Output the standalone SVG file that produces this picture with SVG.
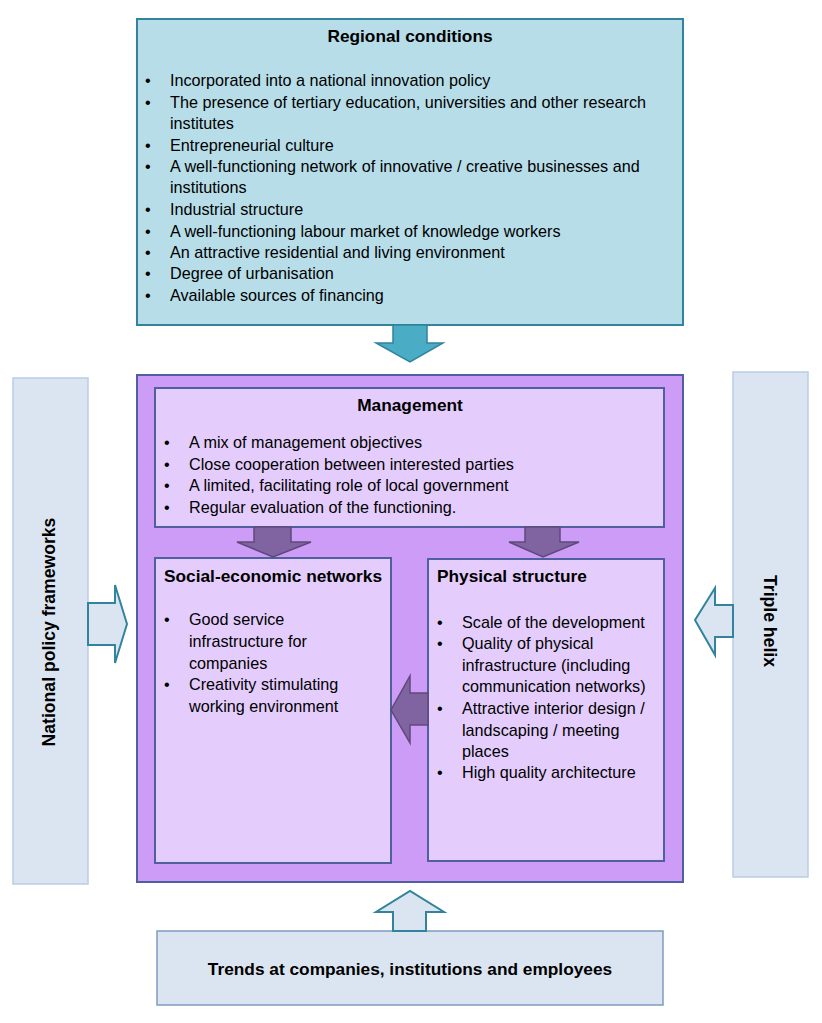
<svg xmlns="http://www.w3.org/2000/svg" width="822" height="1023" viewBox="0 0 822 1023">
<style>
text{font-family:"Liberation Sans",Arial,sans-serif;fill:#000;}
.t{font-size:16.2px;}
.h{font-size:17.3px;font-weight:bold;}
.v{font-size:17.6px;font-weight:bold;}
.reg{fill:#b7dde8;stroke:#31849b;stroke-width:2;}
.main{fill:#cc9cf7;stroke:#4f5f9f;stroke-width:2;}
.inner{fill:#e4cdfc;stroke:#4f5f9f;stroke-width:2;}
.side{fill:#dbe5f1;stroke:#b9cde5;stroke-width:1.5;}
.bot{fill:#dbe5f1;stroke:#7f9bbf;stroke-width:1.5;}
.tealArrow{fill:#4bacc6;stroke:#31849b;stroke-width:1.5;}
.outArrow{fill:#dbe5f1;stroke:#31849b;stroke-width:2;}
.purArrow{fill:#8064a2;stroke:#5f497a;stroke-width:1.5;}
</style>
<rect width="822" height="1023" fill="#fff"/>

<g id="regional">
<rect class="reg" x="137" y="19" width="546" height="306"/>
<text class="h" x="410" y="42" text-anchor="middle">Regional conditions</text>
<g class="t">
<text x="145" y="86">•</text><text x="170" y="86">Incorporated into a national innovation policy</text>
<text x="145" y="108">•</text><text x="170" y="108">The presence of tertiary education, universities and other research</text>
<text x="170" y="129">institutes</text>
<text x="145" y="151">•</text><text x="170" y="151">Entrepreneurial culture</text>
<text x="145" y="172">•</text><text x="170" y="172">A well-functioning network of innovative / creative businesses and</text>
<text x="170" y="193">institutions</text>
<text x="145" y="215">•</text><text x="170" y="215">Industrial structure</text>
<text x="145" y="237">•</text><text x="170" y="237">A well-functioning labour market of knowledge workers</text>
<text x="145" y="258">•</text><text x="170" y="258">An attractive residential and living environment</text>
<text x="145" y="279">•</text><text x="170" y="279">Degree of urbanisation</text>
<text x="145" y="301">•</text><text x="170" y="301">Available sources of financing</text>
</g>
</g>

<g id="mainbox">
<rect class="main" x="137" y="375" width="546" height="507"/>
</g>

<g id="management">
<rect class="inner" x="155" y="388" width="509" height="139"/>
<text class="h" x="410" y="411" text-anchor="middle">Management</text>
<g class="t">
<text x="164" y="448">•</text><text x="189" y="448">A mix of management objectives</text>
<text x="164" y="470">•</text><text x="189" y="470">Close cooperation between interested parties</text>
<text x="164" y="491">•</text><text x="189" y="491">A limited, facilitating role of local government</text>
<text x="164" y="513">•</text><text x="189" y="513">Regular evaluation of the functioning.</text>
</g>
</g>

<g id="social">
<rect class="inner" x="155" y="558" width="236" height="305"/>
<text class="h" x="164" y="582">Social-economic networks</text>
<g class="t">
<text x="164" y="625">•</text><text x="189" y="625">Good service</text>
<text x="189" y="647">infrastructure for</text>
<text x="189" y="669">companies</text>
<text x="164" y="690">•</text><text x="189" y="690">Creativity stimulating</text>
<text x="189" y="712">working environment</text>
</g>
</g>

<g id="physical">
<rect class="inner" x="428" y="559" width="236" height="302"/>
<text class="h" x="437" y="582">Physical structure</text>
<g class="t">
<text x="437" y="628">•</text><text x="462" y="628">Scale of the development</text>
<text x="437" y="649">•</text><text x="462" y="649">Quality of physical</text>
<text x="462" y="671">infrastructure (including</text>
<text x="462" y="692">communication networks)</text>
<text x="437" y="714">•</text><text x="462" y="714">Attractive interior design /</text>
<text x="462" y="736">landscaping / meeting</text>
<text x="462" y="757">places</text>
<text x="437" y="778">•</text><text x="462" y="778">High quality architecture</text>
</g>
</g>

<g id="national">
<rect class="side" x="13" y="378" width="75" height="506"/>
<text class="v" transform="translate(55,632) rotate(-90)" text-anchor="middle">National policy frameworks</text>
</g>

<g id="triple">
<rect class="side" x="733" y="372" width="75" height="505"/>
<text class="v" transform="translate(764,621) rotate(90)" text-anchor="middle">Triple helix</text>
</g>

<g id="trends">
<rect class="bot" x="157" y="931" width="506" height="74"/>
<text class="h" x="410" y="975" text-anchor="middle">Trends at companies, institutions and employees</text>
</g>

<g id="connectors">
<path class="tealArrow" d="M393,325 L427,325 L427,343 L443,343 L410,362 L376,343 L393,343 Z"/>
<path class="purArrow" d="M254,527 L291,527 L291,542 L311,542 L273,557 L237,542 L254,542 Z"/>
<path class="purArrow" d="M525,527 L560,527 L560,542 L579,542 L543,557 L509,542 L525,542 Z"/>
<path class="purArrow" d="M428,693 L410,693 L410,676 L391,710 L410,743 L410,725 L428,725 Z"/>
<path class="outArrow" d="M88,603 L115,603 L115,585 L127,624 L115,663 L115,645 L88,645 Z"/>
<path class="outArrow" d="M733,605 L715,605 L715,588 L695,620 L715,655 L715,637 L733,637 Z"/>
<path class="outArrow" d="M393,931 L393,912 L376,912 L410,891 L444,912 L426,912 L426,931 Z"/>
</g>
</svg>
